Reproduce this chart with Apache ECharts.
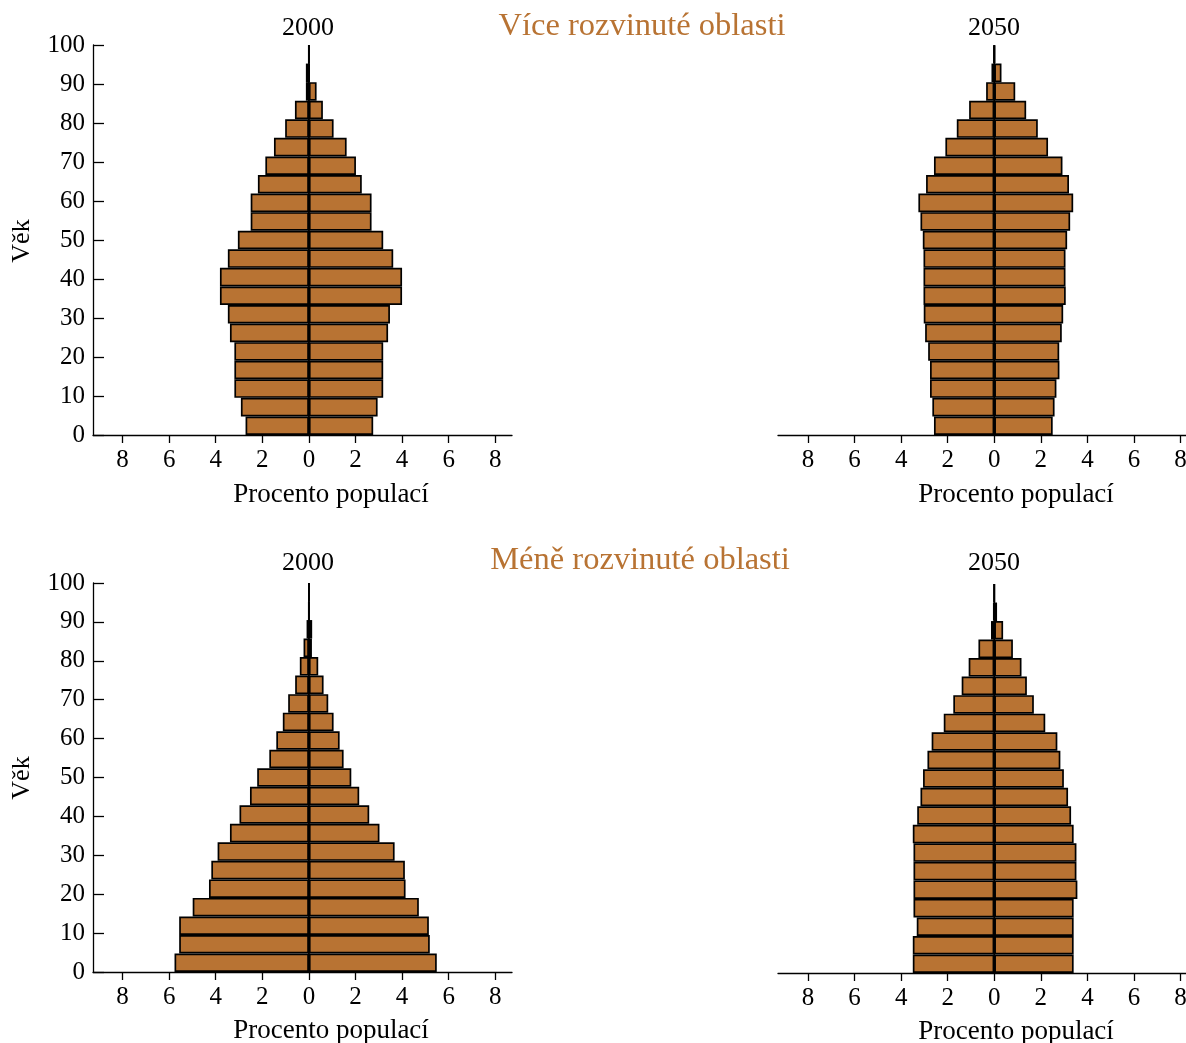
<!DOCTYPE html>
<html>
<head>
<meta charset="utf-8">
<script src="https://cdn.jsdelivr.net/npm/echarts@6/dist/echarts.min.js"></script>
<style>
html,body{margin:0;padding:0;background:#fff;}
#chart{width:1186px;height:1043px;}
</style>
</head>
<body>
<div id="chart"></div>
<script>
// Age groups (21 five-year groups, last is 100+)
const ageGroups = ['0-4','5-9','10-14','15-19','20-24','25-29','30-34','35-39','40-44','45-49',
  '50-54','55-59','60-64','65-69','70-74','75-79','80-84','85-89','90-94','95-99','100+'];

// Více rozvinuté oblasti (more developed regions), percent of population
const devLeft2000  = [2.72,2.92,3.20,3.20,3.20,3.39,3.48,3.82,3.82,3.48,3.05,2.50,2.50,2.19,1.87,1.50,1.02,0.60,0.13,0.13,0.01];
const devRight2000 = [2.76,2.95,3.19,3.19,3.19,3.40,3.48,4.00,4.00,3.62,3.19,2.69,2.69,2.27,2.02,1.62,1.06,0.60,0.33,0.02,0.01];
const devLeft2050  = [2.59,2.66,2.76,2.76,2.84,2.97,3.03,3.04,3.04,3.04,3.07,3.17,3.26,2.93,2.59,2.10,1.61,1.08,0.35,0.12,0.03];
const devRight2050 = [2.51,2.59,2.67,2.80,2.79,2.90,2.96,3.07,3.06,3.06,3.13,3.26,3.39,3.21,2.93,2.31,1.87,1.37,0.90,0.31,0.03];

// Méně rozvinuté oblasti (less developed regions)
const lessLeft2000  = [5.77,5.57,5.57,4.99,4.29,4.19,3.92,3.39,2.98,2.53,2.22,1.70,1.40,1.12,0.89,0.59,0.39,0.23,0.10,0.01,0.00];
const lessRight2000 = [5.49,5.19,5.15,4.72,4.15,4.12,3.68,3.03,2.59,2.16,1.82,1.49,1.32,1.06,0.83,0.63,0.40,0.13,0.14,0.01,0.00];
const lessLeft2050  = [3.50,3.50,3.33,3.47,3.47,3.47,3.47,3.50,3.31,3.17,3.06,2.87,2.69,2.17,1.76,1.40,1.10,0.68,0.14,0.04,0.01];
const lessRight2050 = [3.41,3.41,3.41,3.41,3.57,3.53,3.53,3.41,3.30,3.17,2.99,2.84,2.71,2.19,1.70,1.40,1.17,0.80,0.38,0.12,0.01];

const xTickValues = [-8,-6,-4,-2,0,2,4,6,8];
const ageMin = 0, ageMax = 100, ageStep = 10;

const groupTitles = ['Více rozvinuté oblasti', 'Méně rozvinuté oblasti'];
const yearTitles = ['2000', '2050'];
const xName = 'Procento populací';
const yName = 'Věk';

const FONT = 'Liberation Serif';
const COPPER = '#b87333';

const panels = [
  {left: devLeft2000,  right: devRight2000,  grid: {left: 93,  top: 45,  width: 419, height: 390}, xmin: -9.27, xmax: 8.72, showY: true},
  {left: devLeft2050,  right: devRight2050,  grid: {left: 778, top: 45,  width: 408, height: 390}, xmin: -9.29, xmax: 8.236, showY: false},
  {left: lessLeft2000, right: lessRight2000, grid: {left: 93,  top: 583, width: 419, height: 389}, xmin: -9.27, xmax: 8.72, showY: true},
  {left: lessLeft2050, right: lessRight2050, grid: {left: 778, top: 584, width: 408, height: 389}, xmin: -9.29, xmax: 8.236, showY: false}
];

const grids = [], xAxes = [], yAxes = [], series = [];
panels.forEach((p, k) => {
  grids.push(Object.assign({containLabel: false, outerBoundsMode: 'none'}, p.grid));
  xAxes.push({
    type: 'value', gridIndex: k, min: p.xmin, max: p.xmax,
    axisLine: {show: true, onZero: false, lineStyle: {color: '#000', width: 1.3}},
    axisTick: {show: true, customValues: xTickValues, length: 8, inside: false, lineStyle: {color: '#000', width: 1.3}},
    axisLabel: {show: true, customValues: xTickValues, formatter: v => String(Math.abs(v)), color: '#000', fontSize: 25, fontFamily: FONT, margin: 13},
    splitLine: {show: false}
  });
  yAxes.push({
    type: 'category', gridIndex: k, data: ageGroups, boundaryGap: true, show: false
  });
  yAxes.push({
    type: 'value', gridIndex: k, min: ageMin, max: ageMax, interval: ageStep, show: p.showY, position: 'left',
    axisLine: {show: p.showY, onZero: false, lineStyle: {color: '#000', width: 1.3}},
    axisTick: {show: p.showY, inside: true, length: 11, lineStyle: {color: '#000', width: 1.3}},
    axisLabel: {show: p.showY, color: '#000', fontSize: 25, fontFamily: FONT, margin: 8},
    splitLine: {show: false}
  });
  const barStyle = {color: COPPER, borderColor: '#000', borderWidth: 1.7};
  series.push({
    type: 'bar', xAxisIndex: k, yAxisIndex: 2 * k, stack: 'p' + k, barCategoryGap: '0%',
    data: p.left.map(v => -v), itemStyle: barStyle, silent: true, z: 2
  });
  series.push({
    type: 'bar', xAxisIndex: k, yAxisIndex: 2 * k, stack: 'p' + k, barCategoryGap: '0%',
    data: p.right.slice(), itemStyle: barStyle, silent: true, z: 2
  });
  series.push({
    type: 'line', xAxisIndex: k, yAxisIndex: 2 * k + 1, data: [[0, ageMin], [0, ageMax]],
    symbol: 'none', lineStyle: {color: '#000', width: 1.7}, silent: true, z: 5, animation: false
  });
});

function txt(x, y, text, size, color, rotation) {
  return {
    type: 'text', x: x, y: y, rotation: rotation || 0, silent: true,
    style: {text: text, fontSize: size, fontFamily: FONT, fill: color || '#000', align: 'center', verticalAlign: 'middle'}
  };
}

const graphics = [
  txt(642, 26, groupTitles[0], 32.5, COPPER),
  txt(308, 28, yearTitles[0], 26),
  txt(994, 28, yearTitles[1], 26),
  txt(22, 241, yName, 26, '#000', Math.PI / 2),
  txt(331, 495, xName, 27),
  txt(1016, 495, xName, 27),
  txt(640, 560, groupTitles[1], 32.5, COPPER),
  txt(308, 563, yearTitles[0], 26),
  txt(994, 563, yearTitles[1], 26),
  txt(22, 778, yName, 26, '#000', Math.PI / 2),
  txt(331, 1031, xName, 27),
  txt(1016, 1032, xName, 27)
];

const chart = echarts.init(document.getElementById('chart'), null, {renderer: 'canvas'});
chart.setOption({
  animation: false,
  backgroundColor: '#fff',
  textStyle: {fontFamily: FONT},
  grid: grids,
  xAxis: xAxes,
  yAxis: yAxes,
  series: series,
  graphic: graphics
});
</script>
</body>
</html>
